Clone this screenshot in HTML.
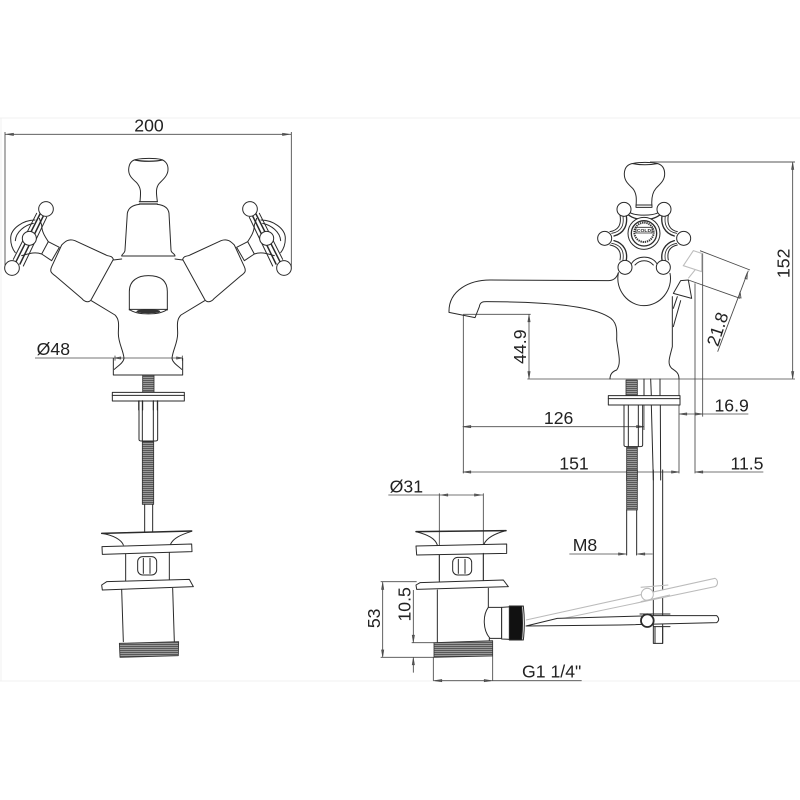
<!DOCTYPE html>
<html><head><meta charset="utf-8"><style>
html,body{margin:0;padding:0;background:#fff}
svg{display:block;filter:blur(.35px)}
text{font-family:"Liberation Sans",sans-serif;fill:#222;stroke:none;font-size:53px}
.l{fill:none;stroke:#2a2a2a;stroke-width:3;stroke-linejoin:round;stroke-linecap:round}
.w{fill:#fff}
.d{fill:none;stroke:#4a4a4a;stroke-width:2.6}
.p{fill:none;stroke:#bdbdbd;stroke-width:3.2}
.t{fill:url(#st);stroke:#333;stroke-width:2.5}
</style></head><body>
<svg xmlns="http://www.w3.org/2000/svg" width="800" height="800" viewBox="0 0 800 800">
<defs>
<pattern id="st" width="6" height="6" patternUnits="userSpaceOnUse"><rect width="6" height="6" fill="#999"/><rect width="6" height="2.5" fill="#4c4c4c"/></pattern>
<g id="arm" class="l">
<path class="w" d="M125 432L145 395L178 412L155 452Z"/>
<path class="w" d="M340 448C335 435 325 440 318 435L225 392C205 385 195 395 185 405L155 470C148 485 155 490 165 497L245 565C255 578 268 578 274 568Z"/>
<path d="M105 330C70 330 32 355 32 385C32 402 38 418 46 428"/>
<path d="M100 340C75 345 48 365 46 392"/>
<path d="M118 325L125 345C125 365 135 380 145 395M125 432C105 425 90 430 65 437"/>
<path d="M120 312L48 455M130 318L60 462" stroke-width="4.5"/>
<path d="M110 310L40 448M140 322L70 468"/>
<circle class="w" cx="138" cy="297" r="22"/><circle class="w" cx="88" cy="385" r="21"/><circle class="w" cx="36" cy="474" r="22"/>
</g>
<g id="cap" class="l">
<path d="M65 490C100 495 125 510 130 525M335 484C300 495 280 505 272 522"/>
<path d="M65 490L335 483" stroke-width="4.5"/>
<path class="w" d="M66 530L335 522L336 545L67 553Z"/>
<path d="M137 552L137 632M268 548L268 630"/>
<rect x="173" y="560" width="57" height="55" rx="15"/>
<path d="M190 565L190 610M210 565L210 610"/>
<path class="w" d="M65 645L80 635L328 628L340 650L67 660Z"/>
<path d="M125 658L130 815M278 655L283 815"/>
<path class="t" d="M118 820L296 815L295 857L120 862Z"/>
</g>
</defs>
<rect width="800" height="800" fill="#fff"/>
<path d="M0 118H800M0 681H800M1 118V681" stroke="#f0f0f0" fill="none"/>

<!-- left view -->
<g transform="translate(0,110) scale(.33333)">
<path class="d" d="M15 66V470M874 66V470M15 73H874M105 744H548M345 737V752M547 737V752"/>
<path class="d" d="M22 73L40 70V76ZM866 73L848 70V76ZM345 744L362 741V747ZM547 744L530 741V747Z"/>
<text x="447" y="65" text-anchor="middle">200</text>
<text x="160" y="735" text-anchor="middle">Ø48</text>
<use href="#arm"/><use href="#arm" transform="translate(888,0) scale(-1,1)"/>
<g class="l">
<path d="M420 275C422 250 425 235 410 218C395 205 385 195 386 178C387 160 395 150 410 148C430 144 465 144 482 148C498 152 505 165 504 180C503 197 490 208 478 220C465 235 470 255 472 275"/>
<path d="M405 150C425 155 470 155 488 150" stroke-width="3.5"/>
<path d="M418 275H472M418 282H472" stroke-width="3.5"/>
<path d="M418 283C400 285 385 292 382 310L375 420C375 430 365 432 365 438H525C525 430 513 430 513 420L507 310C505 292 490 285 472 283"/>
<path d="M340 450L365 447M525 447L548 450"/>
<path d="M274 572L345 615C360 630 355 650 355 670C355 700 370 720 372 745C370 760 350 770 343 778"/>
<path d="M614 572L543 615C528 630 533 650 533 670C533 700 518 720 516 745C518 760 538 770 545 778"/>
<path d="M340 745V795H548V745"/>
<path d="M388 600V545C388 510 415 497 445 497C480 497 502 510 502 545V600"/>
<path d="M388 598C410 616 480 616 502 598Z" fill="#fff"/>
<ellipse cx="445" cy="604" rx="36" ry="6" fill="#333" stroke="none"/>
<rect class="t" x="428" y="796" width="34" height="50"/>
<path class="w" d="M337 847H553V873H337Z"/><path d="M337 856H553"/>
<path d="M416 873V900M428 873V900M460 873V900M472 873V900"/>
</g>
</g>
<g transform="translate(80,370) scale(.33333)" class="l">
<path d="M177 92V208Q177 213 185 213H225Q233 213 233 208V92M187 92V213M220 92V213"/>
<rect class="t" x="187" y="215" width="34" height="188"/>
<path d="M194 403V485M218 403V485"/>
<use href="#cap"/>
</g>

<!-- side view -->
<g transform="translate(440,150) scale(.33333)">
<path d="M630 36H1065" stroke="#777" stroke-width="4" fill="none"/>
<path class="d" d="M1058 36V687M262 687H1065M70 493H272M267 493V687M70 493V970M717 687V970M765 400V970M788 310V800M612 687V840"/>
<path class="d" d="M717 792H925M68 830H612M68 966H717M765 966H970"/>
<path class="d" d="M780 302L930 360M745 390L900 445M925 362L833 605"/>
<path class="d" d="M1058 40L1055 58H1061ZM1058 683L1055 665H1061ZM267 497L264 515H270ZM267 683L264 665H270ZM72 830L92 827V833ZM610 830L590 827V833ZM72 966L92 963V969ZM715 966L695 963V969ZM768 966L788 963V969ZM720 792L740 789V795ZM786 792L766 789V795ZM922 368L915 385L921 387ZM900 425L897 443L903 444Z"/>
<text x="356" y="822" text-anchor="middle">126</text>
<text x="402" y="958" text-anchor="middle">151</text>
<text x="921" y="958" text-anchor="middle">11.5</text>
<text x="875" y="785" text-anchor="middle">16.9</text>
<text transform="translate(258,590) rotate(-90)" text-anchor="middle">44.9</text>
<text transform="translate(1048,340) rotate(-90)" text-anchor="middle">152</text>
<text transform="translate(850,543) rotate(-72)" text-anchor="middle">21.8</text>
<g class="l">
<path d="M588 170C590 145 590 130 578 115C562 100 552 90 553 70C554 50 565 42 580 40C600 36 630 36 650 40C665 43 674 52 674 72C674 92 660 102 648 115C635 130 634 150 636 170"/>
<path d="M578 41C600 45 630 45 652 41"/>
<path d="M588 165H636M588 172H636"/>
<path d="M535 370C525 420 565 467 612 467C660 467 700 420 690 370"/>
<path d="M535 368C530 385 520 392 505 392L150 390C90 390 25 420 27 487L105 503L118 470C120 455 130 455 140 455C250 455 440 460 505 500C535 515 530 550 530 570C535 610 545 640 530 660C515 665 510 675 510 687"/>
<path d="M697 440V590C690 620 680 640 695 655C710 665 717 670 717 687"/>
<path d="M700 530L722 452M700 475L712 440"/>
<path class="w" d="M700 430L722 392L745 390L755 445Z"/>
<path d="M570 188C590 198 635 198 655 188M540 195C545 225 535 240 510 245M685 195C680 225 690 240 712 245M510 285C535 290 545 305 540 330M712 285C690 290 680 305 685 330"/>
<path d="M548 192C554 225 545 245 515 250M677 192C670 225 682 245 710 250M515 280C545 285 554 305 548 335M710 280C682 285 670 305 677 335" stroke-width="2.5"/>
<path d="M558 192C565 225 552 250 522 258M667 192C660 225 675 250 703 258M522 272C552 280 565 305 558 335M703 272C675 280 660 305 667 335" stroke-width="4"/>
<path d="M575 340C590 315 635 315 650 340M585 345C600 328 625 328 640 345"/>
<path d="M560 190C585 215 640 215 665 190" stroke-width="4"/>
<circle class="w" cx="612" cy="250" r="48"/>
<circle cx="612" cy="250" r="38" stroke-width="4"/>
<circle cx="612" cy="247" r="29" stroke-width="6" stroke-dasharray="4 2.5" stroke-linecap="butt" stroke="#333"/>
<rect x="588" y="232" width="48" height="17" fill="#fff" stroke-width="2.5"/>
<circle class="w" cx="552" cy="178" r="21"/><circle class="w" cx="672" cy="178" r="21"/>
<circle class="w" cx="494" cy="265" r="21"/><circle class="w" cx="731" cy="265" r="21"/>
<circle class="w" cx="555" cy="352" r="21"/><circle class="w" cx="670" cy="352" r="21"/>
<rect class="t" x="558" y="690" width="34" height="47"/>
<path d="M612 687V737M632 687L634 737M660 687V737"/>
<path class="w" d="M505 737H720V765H505Z"/><path d="M505 746H720"/>
<path d="M552 765V885Q552 890 560 890H600Q608 890 608 885V765M565 765V890M595 765V890M634 765L640 990M661 765L662 990"/>
<rect class="t" x="560" y="892" width="32" height="100"/>
</g>
<path class="p" d="M730 347L760 302L785 310V365ZM745 385L765 360"/>
<text x="612" y="246" text-anchor="middle" style="font-size:15px;font-weight:bold">COLD</text>
</g>

<!-- waste -->
<g transform="translate(360,470) scale(.33333)">
<path class="d" d="M85 75H370M238 70V330M370 70V330M62 335H170M62 562H222M155 518H222M68 335V562M160 360V518M160 562V608M220 562V632M398 558V632M220 632H665M628 252H798M832 252H878"/>
<path class="d" d="M245 75L263 72V78ZM362 75L344 72V78ZM68 340L65 358H71ZM68 558L65 540H71ZM160 514L157 496H163ZM160 566L157 584H163ZM225 632L245 629V635ZM393 632L373 629V635ZM796 252L776 249V255ZM834 252L854 249V255Z"/>
<text x="139" y="67" text-anchor="middle">Ø31</text>
<text x="675" y="243" text-anchor="middle">M8</text>
<text x="575" y="622" text-anchor="middle">G1 1/4"</text>
<text transform="translate(60,445) rotate(-90)" text-anchor="middle">53</text>
<text transform="translate(152,403) rotate(-90)" text-anchor="middle">10.5</text>
<g class="l">
<rect class="t" x="800" y="0" width="32" height="120"/>
<path d="M800 120V255M830 120V255"/>
<path d="M880 0V520H908V0"/>
<path d="M168 185C205 195 225 205 232 225M438 182C400 192 380 205 372 222"/>
<path d="M168 185L438 182" stroke-width="4.5"/>
<path class="w" d="M168 228L440 222L440 250L170 255Z"/>
<path d="M238 255V335M370 250V332"/>
<rect x="278" y="262" width="57" height="53" rx="15"/>
<path d="M295 268V310M315 268V310"/>
<path class="w" d="M168 345L180 338L430 330L445 350L170 358Z"/>
<path d="M232 360V518M385 355V412M388 505V512"/>
<path class="t" d="M222 518L398 512L398 558L222 562Z"/>
<path class="w" d="M385 412C368 435 368 480 390 505H425V412Z"/>
</g>
<g class="p" style="stroke:#bbb">
<path d="M498 450L1065 325C1075 330 1075 345 1065 350L515 465" fill="#fff"/>
<circle cx="862" cy="373" r="18" fill="#fff"/>
<path d="M842 352L925 345M842 395L930 375"/>
</g>
<g class="l">
<path class="w" d="M592 445L880 437H1070C1078 445 1078 452 1070 458L780 465L498 468L592 445"/>
<path d="M885 470V520M908 470V520"/>
<path d="M840 432H930M880 470H930" stroke-width="3"/>
<circle cx="862" cy="452" r="19" fill="#fff" stroke-width="5.5"/>
<path class="w" d="M425 412L490 408Q496 460 490 510L425 507Z"/>
<path d="M448 408H485Q490 460 485 510H448Z" fill="#111"/>
</g>
</g>
</svg>
</body></html>
